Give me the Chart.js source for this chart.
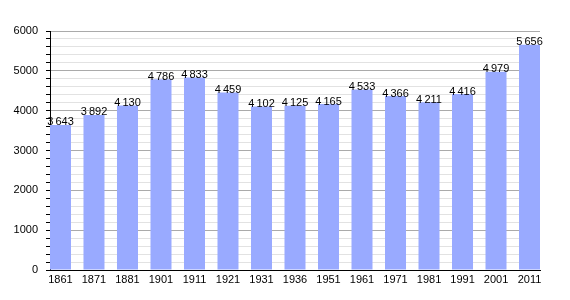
<!DOCTYPE html>
<html>
<head>
<meta charset="utf-8">
<script src="https://cdn.jsdelivr.net/npm/chart.js@4/dist/chart.umd.min.js"></script>
<style>
  html, body { margin: 0; padding: 0; background: #fff; }
  #wrap { width: 570px; height: 300px; }
</style>
</head>
<body>
<div id="wrap"><canvas id="myChart"></canvas></div>
<script>
// population by census year
const years  = ['1861', '1871', '1881', '1901', '1911', '1921', '1931', '1936', '1951', '1961', '1971', '1981', '1991', '2001', '2011'];
const values = [3643, 3892, 4130, 4786, 4833, 4459, 4102, 4125, 4165, 4533, 4366, 4211, 4416, 4979, 5656];
const yMax   = 6000;
const yStep  = 200;   // minor grid step
const yMajor = 1000;  // labelled grid step

const fontFamily = '"Liberation Sans", Arial, sans-serif';

// thin space as thousands separator, like "4 786"
const fmt = (v) => String(v).replace(/\B(?=(\d{3})+(?!\d))/g, '\u2009');

const valueLabels = {
  id: 'valueLabels',
  afterDatasetsDraw(chart) {
    const ctx = chart.ctx;
    const meta = chart.getDatasetMeta(0);
    ctx.save();
    ctx.font = '11px ' + fontFamily;
    ctx.fillStyle = '#000';
    ctx.textAlign = 'center';
    ctx.textBaseline = 'alphabetic';
    meta.data.forEach((bar, i) => {
      ctx.fillText(fmt(values[i]), bar.x, bar.y + 0.5);
    });
    ctx.restore();
  }
};

const ctx = document.getElementById('myChart').getContext('2d');
new Chart(ctx, {
  type: 'bar',
  data: {
    datasets: [{
      data: values.map((v, i) => ({ x: i, y: v })),
      backgroundColor: '#99aaff',
      borderWidth: 0,
      categoryPercentage: 0.627,
      barPercentage: 1
    }]
  },
  options: {
    responsive: true,
    maintainAspectRatio: false,
    animation: false,
    layout: { padding: { top: 31, right: 30, bottom: 0, left: 0 } },
    plugins: {
      legend: { display: false },
      tooltip: { enabled: false }
    },
    scales: {
      x: {
        type: 'linear',
        offset: false,
        min: -0.313,
        max: years.length - 1 + 0.313,
        afterFit: (scale) => { scale.height = 30; },
        grid: { display: false, drawTicks: false, offset: false },
        border: { display: true, color: '#000', width: 1 },
        ticks: {
          stepSize: 1,
          includeBounds: false,
          autoSkip: false,
          maxRotation: 0,
          padding: 3,
          color: '#000',
          font: { family: fontFamily, size: 11 },
          callback: (v) => Number.isInteger(v) ? years[v] : null
        }
      },
      y: {
        min: 0,
        max: yMax,
        afterFit: (scale) => { scale.width = 50; },
        grid: {
          color: (c) => (c.tick && c.tick.value % yMajor === 0) ? '#aaaaaa' : '#e2e2e2',
          tickColor: '#000',
          tickLength: 4,
          lineWidth: 1
        },
        border: { display: true, color: '#000', width: 1 },
        ticks: {
          stepSize: yStep,
          autoSkip: false,
          padding: 8,
          color: '#000',
          font: { family: fontFamily, size: 11 },
          callback: (v) => v % yMajor === 0 ? String(v) : ''
        }
      }
    }
  },
  plugins: [valueLabels]
});
</script>
</body>
</html>
